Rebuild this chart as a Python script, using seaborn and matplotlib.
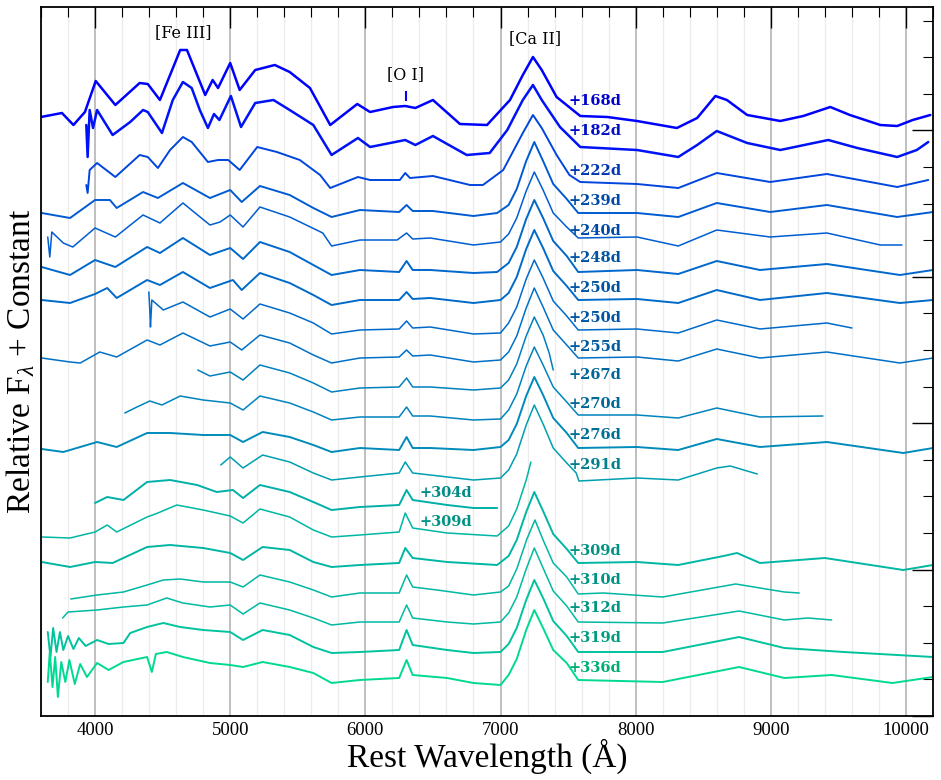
import numpy as np
import pandas as pd
import seaborn as sns
import matplotlib
matplotlib.use("Agg")
import matplotlib.pyplot as plt
from matplotlib.ticker import MultipleLocator

# phases of the nebular spectra (days) and their labels
PHASES = [168, 182, 222, 239, 240, 248, 250, 250, 255, 267,
          270, 276, 291, 304, 309, 309, 310, 312, 319, 336]
LABELS = ['+%dd' % p for p in PHASES]

# additive constant for each spectrum
OFFSETS = [59.1, 56.1, 53.1, 50.1, 47.1, 44.4, 41.4, 38.4, 35.5, 32.7,
           29.8, 26.7, 23.7, 20.9, 18.0, 15.1, 12.2, 9.4, 6.4, 3.4]

# (rest wavelength [A], relative flux)
SPEC_168 = [(3600, 0.8), (3755, 1.2), (3840, 0.0), (3925, 1.3), (4005, 4.4), (4150, 2.0),
            (4330, 4.2), (4390, 4.1), (4480, 2.5), (4570, 5.5), (4630, 7.5), (4680, 7.5),
            (4755, 5.0), (4815, 3.0), (4870, 4.5), (4910, 3.7), (5000, 6.2), (5070, 3.5),
            (5185, 5.5), (5330, 6.0), (5440, 5.3), (5590, 3.7), (5740, 0.0), (5940, 2.1),
            (6035, 1.3), (6205, 1.8), (6295, 1.9), (6370, 1.7), (6500, 2.5), (6700, 0.1),
            (6900, 0.0), (7070, 2.5), (7165, 5.0), (7240, 6.8), (7305, 5.5), (7415, 2.8),
            (7590, 0.9), (7790, 0.8), (8010, 0.4), (8305, -0.3), (8455, 0.7), (8590, 2.9),
            (8675, 2.5), (8825, 1.0), (9070, 0.4), (9240, 0.9), (9440, 1.8), (9585, 1.0),
            (9810, 0.0), (9935, -0.1), (10050, 0.5), (10180, 1.0)]
SPEC_182 = [(3935, 3.0), (3945, -0.2), (3960, 4.5), (3985, 2.7), (4015, 4.5), (4130, 2.0),
            (4260, 3.3), (4355, 4.5), (4390, 4.3), (4495, 2.2), (4575, 5.5), (4650, 7.3),
            (4715, 6.7), (4775, 4.5), (4835, 2.7), (4880, 4.1), (4920, 3.5), (5005, 5.9),
            (5080, 2.8), (5185, 5.2), (5320, 5.5), (5440, 4.5), (5615, 3.0), (5750, 0.0),
            (5945, 1.7), (6035, 0.8), (6295, 1.5), (6370, 1.0), (6500, 1.9), (6750, 0.0),
            (6920, 0.2), (7050, 2.5), (7165, 5.5), (7240, 7.0), (7305, 5.5), (7440, 2.8),
            (7590, 0.8), (8010, 0.5), (8315, -0.2), (8455, 1.0), (8600, 2.4), (8825, 1.2),
            (9070, 0.5), (9425, 1.5), (9640, 0.7), (9935, -0.2), (10080, 0.5), (10165, 1.3)]
SPEC_222 = [(3935, 0.0), (3945, -0.8), (3960, 1.5), (4015, 2.2), (4150, 0.8), (4330, 3.0),
            (4390, 2.8), (4465, 1.7), (4555, 3.5), (4650, 4.8), (4715, 4.3), (4835, 2.3),
            (4910, 2.5), (4985, 2.5), (5070, 1.5), (5200, 3.8), (5345, 3.3), (5515, 2.5),
            (5665, 1.0), (5740, -0.3), (5945, 0.8), (6035, 0.5), (6255, 0.5), (6295, 1.2),
            (6330, 0.7), (6500, 0.9), (6775, 0.0), (6870, 0.0), (7020, 1.5), (7165, 5.2),
            (7240, 7.0), (7305, 5.7), (7415, 3.0), (7510, 1.0), (7590, 0.3), (8010, 0.1),
            (8315, -0.3), (8600, 1.2), (8995, 0.3), (9415, 1.1), (9935, -0.2), (10165, 0.5)]
SPEC_239 = [(3605, 0.2), (3815, -0.3), (4000, 1.5), (4110, 1.5), (4160, 0.7), (4355, 2.3),
            (4465, 1.7), (4650, 3.2), (4850, 1.7), (5000, 2.5), (5085, 1.3), (5220, 2.9),
            (5440, 2.0), (5615, 0.7), (5750, -0.2), (5960, 0.5), (6250, 0.3), (6305, 1.0),
            (6350, 0.4), (6500, 0.4), (6800, -0.1), (6975, 0.2), (7060, 1.0), (7120, 2.6),
            (7190, 5.4), (7250, 7.3), (7315, 5.4), (7390, 3.1), (7490, 1.6), (7575, 0.2),
            (8010, 0.2), (8315, -0.2), (8600, 1.2), (8995, 0.3), (9415, 1.0), (9935, -0.2),
            (10200, 0.3)]
SPEC_240 = [(3650, 0.8), (3665, -1.2), (3680, 1.3), (3765, 0.2), (3835, -0.2), (4000, 1.7),
            (4150, 0.8), (4355, 3.0), (4480, 2.2), (4650, 4.2), (4850, 2.0), (4925, 2.3),
            (5000, 3.0), (5095, 1.8), (5220, 3.8), (5440, 2.8), (5685, 1.2), (5750, -0.1),
            (5960, 0.5), (6235, 0.5), (6305, 1.2), (6350, 0.6), (6480, 0.7), (6800, 0.0),
            (7000, 0.3), (7060, 1.1), (7120, 2.7), (7190, 5.4), (7250, 7.3), (7315, 5.5),
            (7390, 3.2), (7490, 1.8), (7575, 0.7), (8010, 0.8), (8315, -0.1), (8600, 1.5),
            (8995, 0.8), (9415, 1.2), (9810, 0.0), (9970, 0.0)]
SPEC_248 = [(3605, 0.5), (3815, -0.3), (4000, 1.2), (4150, 0.5), (4385, 2.5), (4480, 1.9),
            (4650, 3.4), (4850, 1.7), (5000, 2.4), (5095, 1.3), (5220, 3.0), (5440, 2.0),
            (5615, 0.7), (5750, -0.3), (5960, 0.2), (6250, 0.0), (6305, 1.1), (6350, 0.2),
            (6480, 0.2), (6800, -0.1), (6975, 0.0), (7060, 0.9), (7120, 2.5), (7190, 5.3),
            (7250, 7.2), (7315, 5.4), (7390, 3.1), (7490, 1.6), (7575, 0.0), (8010, 0.2),
            (8315, -0.2), (8600, 1.1), (8920, 0.2), (9415, 0.8), (9955, -0.3), (10200, 0.2)]
SPEC_250A = [(3605, 0.2), (3815, -0.1), (4000, 0.8), (4090, 1.4), (4160, 0.4), (4385, 2.2),
             (4480, 1.7), (4650, 3.0), (4850, 1.4), (5020, 2.2), (5085, 1.2), (5220, 2.9),
             (5440, 1.9), (5615, 0.7), (5750, -0.3), (5960, 0.2), (6250, 0.2), (6305, 1.0),
             (6350, 0.3), (6480, 0.4), (6800, -0.1), (7000, 0.2), (7060, 0.9), (7120, 2.5),
             (7190, 5.3), (7250, 7.2), (7315, 5.4), (7390, 3.1), (7490, 1.6), (7575, 0.2),
             (8010, 0.3), (8315, -0.1), (8600, 1.2), (8920, 0.2), (9415, 0.9), (9955, -0.1),
             (10200, 0.2)]
SPEC_250B = [(4398, 4.0), (4405, 2.2), (4410, 0.5), (4420, 3.2), (4505, 2.2), (4650, 3.0),
             (4850, 1.5), (5000, 2.3), (5095, 1.3), (5220, 2.8), (5440, 1.9), (5615, 0.9),
             (5750, -0.2), (5960, 0.2), (6250, 0.3), (6305, 1.1), (6350, 0.4), (6480, 0.5),
             (6800, -0.2), (7000, -0.1), (7060, 0.9), (7120, 2.5), (7190, 5.3), (7250, 7.2),
             (7315, 5.4), (7390, 3.1), (7490, 1.6), (7575, 0.2), (8010, 0.3), (8315, -0.1),
             (8600, 1.2), (8920, 0.3), (9415, 0.9), (9600, 0.4)]
SPEC_255 = [(3605, 0.3), (3815, -0.1), (3890, -0.2), (4035, 0.9), (4160, 0.4), (4385, 2.1),
            (4480, 1.6), (4650, 2.8), (4850, 1.5), (5000, 1.9), (5085, 1.1), (5220, 2.6),
            (5440, 1.8), (5615, 0.6), (5750, -0.2), (5960, 0.3), (6250, 0.4), (6305, 1.1),
            (6350, 0.5), (6480, 0.6), (6800, -0.1), (7000, 0.1), (7060, 0.9), (7120, 2.5),
            (7190, 5.3), (7250, 7.3), (7315, 5.4), (7390, 3.1), (7490, 1.6), (7575, 0.3),
            (8010, 0.4), (8315, 0.0), (8600, 1.2), (8920, 0.3), (9415, 0.9), (9955, -0.2),
            (10200, 0.3)]
SPEC_267 = [(4760, 1.9), (4850, 1.3), (5000, 1.7), (5095, 0.9), (5220, 2.4), (5440, 1.6),
            (5615, 0.6), (5750, -0.3), (5960, 0.1), (6250, 0.2), (6305, 1.1), (6350, 0.2),
            (6480, 0.2), (6800, -0.1), (7000, 0.1), (7060, 0.9), (7120, 2.5), (7190, 5.3),
            (7250, 7.2), (7315, 5.4), (7360, 3.6), (7390, 1.9)]
SPEC_270 = [(4220, 0.5), (4310, 1.1), (4405, 1.7), (4495, 1.3), (4630, 2.2), (4800, 1.8),
            (5000, 1.5), (5095, 0.8), (5220, 2.2), (5440, 1.5), (5615, 0.6), (5750, -0.2),
            (5960, 0.1), (6250, 0.1), (6305, 1.1), (6350, 0.2), (6480, 0.2), (6800, -0.2),
            (7000, -0.1), (7060, 0.8), (7120, 2.4), (7190, 5.2), (7250, 7.1), (7315, 5.3),
            (7390, 3.1), (7490, 1.6), (7575, 0.3), (8010, 0.3), (8315, 0.0), (8600, 1.0),
            (8920, 0.1), (9385, 0.2)]
SPEC_276 = [(3605, 0.0), (3765, -0.3), (4015, 0.7), (4160, 0.2), (4385, 1.6), (4555, 1.6),
            (4800, 1.4), (5000, 1.4), (5095, 0.7), (5240, 1.7), (5440, 1.2), (5615, 0.4),
            (5750, -0.3), (5960, 0.1), (6250, -0.1), (6305, 1.2), (6350, 0.1), (6480, 0.1),
            (6800, -0.1), (7000, 0.2), (7060, 0.9), (7120, 2.5), (7190, 5.3), (7250, 7.2),
            (7315, 5.4), (7390, 3.1), (7490, 1.6), (7575, 0.1), (8010, 0.2), (8315, -0.1),
            (8600, 1.0), (8920, 0.2), (9415, 0.7), (9980, -0.4), (10200, 0.1)]
SPEC_291 = [(4930, 1.4), (5000, 2.2), (5095, 1.1), (5240, 2.4), (5440, 1.7), (5615, 0.6),
            (5750, -0.1), (5960, 0.2), (6250, 0.6), (6295, 1.7), (6350, 0.6), (6480, 0.4),
            (6800, -0.1), (7000, 0.1), (7060, 0.9), (7120, 2.5), (7190, 5.4), (7250, 7.4),
            (7315, 5.5), (7390, 3.1), (7490, 1.6), (7560, 0.6), (7580, -0.2), (8010, 0.1),
            (8315, -0.1), (8600, 1.1), (8700, 1.3), (8900, 0.5)]
SPEC_304 = [(4000, 0.4), (4090, 1.0), (4210, 0.7), (4385, 2.5), (4555, 2.7), (4755, 2.2),
            (4900, 1.5), (5020, 1.7), (5095, 0.9), (5220, 2.2), (5440, 1.5), (5615, 0.5),
            (5750, -0.3), (5960, 0.0), (6250, 0.2), (6305, 1.7), (6350, 0.7), (6605, 0.2),
            (6800, -0.1), (6975, -0.1)]
SPEC_309A = [(3605, -0.1), (3815, -0.2), (4000, 0.4), (4090, 1.1), (4160, 0.4), (4385, 1.9),
             (4465, 2.3), (4605, 3.1), (4800, 2.6), (5000, 2.0), (5095, 1.3), (5220, 2.7),
             (5440, 1.9), (5615, 0.6), (5750, -0.1), (5960, 0.1), (6250, 0.4), (6295, 2.3),
             (6350, 0.8), (6605, 0.3), (6975, 0.0), (7060, 1.0), (7120, 2.7), (7190, 5.6),
             (7225, 7.4)]
SPEC_309B = [(3605, 0.3), (3815, -0.2), (4000, 0.3), (4130, 0.2), (4385, 1.8), (4555, 2.0),
             (4800, 1.7), (5000, 1.2), (5095, 0.5), (5240, 1.8), (5440, 1.5), (5615, 0.3),
             (5750, -0.2), (5960, 0.0), (6250, 0.2), (6295, 1.7), (6350, 0.7), (6605, 0.3),
             (6975, 0.0), (7060, 0.9), (7120, 2.5), (7190, 5.3), (7250, 7.3), (7315, 5.4),
             (7390, 3.1), (7490, 1.6), (7575, 0.2), (8010, 0.3), (8315, 0.0), (8650, 0.9),
             (8750, 1.2), (8920, 0.2), (9400, 0.7), (9980, -0.5), (10200, 0.0)]
SPEC_310 = [(3820, -0.5), (4015, -0.1), (4210, 0.2), (4385, 0.9), (4505, 1.4), (4630, 1.5),
            (4800, 1.2), (5000, 1.2), (5095, 0.7), (5220, 1.9), (5440, 1.2), (5615, 0.4),
            (5750, -0.3), (5960, 0.1), (6250, 0.1), (6305, 1.9), (6350, 0.7), (6530, 0.4),
            (6800, -0.1), (7000, 0.2), (7060, 0.8), (7120, 2.5), (7195, 5.5), (7255, 7.4),
            (7315, 5.4), (7390, 3.1), (7490, 1.7), (7575, 0.0), (7760, 0.1), (8200, -0.3),
            (8740, 1.0), (9100, 0.2), (9210, 0.1)]
SPEC_312 = [(3760, 0.4), (3800, 1.0), (4015, 1.2), (4210, 1.5), (4385, 1.7), (4530, 2.4),
            (4650, 1.9), (4850, 1.5), (5000, 1.7), (5095, 0.8), (5220, 1.9), (5440, 1.2),
            (5615, 0.4), (5750, -0.3), (5960, 0.0), (6250, 0.0), (6305, 1.7), (6350, 0.4),
            (6605, 0.0), (6800, -0.2), (7000, 0.0), (7060, 0.9), (7120, 2.5), (7190, 5.3),
            (7250, 7.4), (7315, 5.4), (7390, 3.1), (7490, 1.6), (7575, 0.0), (8200, -0.1),
            (8765, 1.1), (9100, 0.2), (9275, 0.4), (9450, 0.2)]
SPEC_319 = [(3650, 2.0), (3670, -0.5), (3690, 2.4), (3715, 0.0), (3740, 2.0), (3765, 0.2),
            (3800, 1.6), (3840, 0.3), (3880, 1.4), (3930, 0.6), (4015, 1.2), (4100, 0.8),
            (4210, 0.9), (4260, 1.9), (4385, 2.5), (4505, 2.9), (4630, 2.5), (4800, 2.2),
            (5000, 2.0), (5095, 1.2), (5240, 2.2), (5440, 1.7), (5615, 0.5), (5750, -0.1),
            (5960, 0.0), (6250, 0.2), (6305, 2.2), (6350, 0.7), (6605, 0.2), (6800, -0.1),
            (7000, 0.0), (7060, 0.8), (7120, 2.4), (7190, 5.2), (7250, 7.2), (7315, 5.4),
            (7390, 3.1), (7490, 1.6), (7575, 0.0), (8200, 0.0), (8765, 1.5), (9100, 0.4),
            (9540, 0.0), (10200, -0.5)]
SPEC_336 = [(3650, 0.0), (3665, 3.0), (3685, -0.5), (3705, 2.5), (3725, -1.5), (3750, 2.0),
            (3780, 0.0), (3810, 2.2), (3850, -0.2), (3890, 1.8), (3940, 0.5), (4015, 1.9),
            (4100, 1.2), (4210, 2.0), (4385, 2.5), (4420, 1.0), (4450, 2.8), (4530, 3.0),
            (4650, 2.5), (4850, 1.9), (5000, 1.7), (5095, 1.5), (5240, 2.0), (5440, 1.5),
            (5615, 0.9), (5750, -0.1), (5960, 0.2), (6250, 0.4), (6305, 2.2), (6350, 0.7),
            (6605, 0.4), (6800, -0.1), (7000, -0.3), (7060, 0.7), (7120, 2.3), (7190, 5.2),
            (7250, 7.2), (7315, 5.4), (7390, 3.2), (7490, 1.9), (7575, 0.2), (8200, 0.0),
            (8765, 1.5), (9100, 0.4), (9450, 0.7), (9900, -0.1), (10200, 0.5)]

SPECTRA = [SPEC_168, SPEC_182, SPEC_222, SPEC_239, SPEC_240, SPEC_248, SPEC_250A,
           SPEC_250B, SPEC_255, SPEC_267, SPEC_270, SPEC_276, SPEC_291, SPEC_304,
           SPEC_309A, SPEC_309B, SPEC_310, SPEC_312, SPEC_319, SPEC_336]

# styling
NOISY = {1, 2, 3, 5, 6, 11, 13, 15, 18, 19}
SIDE_LABEL = {13, 14}  # labels sitting next to [O I] instead of right of Ca II

sns.set_style("white")
plt.rcParams['font.family'] = ['DejaVu Serif']
plt.rcParams['text.color'] = 'black'
plt.rcParams['axes.labelcolor'] = 'black'
plt.rcParams['xtick.color'] = 'black'
plt.rcParams['ytick.color'] = 'black'
plt.rcParams['mathtext.fontset'] = 'custom'
plt.rcParams['mathtext.rm'] = 'Liberation Serif'
plt.rcParams['mathtext.it'] = 'Liberation Serif:italic'

fig = plt.figure(figsize=(9.41, 7.8), dpi=100)
ax = fig.add_axes([41 / 941, 64 / 780, 892 / 941, 709 / 780])
cmap = plt.get_cmap('winter')

for i, spec in enumerate(SPECTRA):
    df = pd.DataFrame(spec, columns=['wave', 'flux'])
    df['flux'] = df['flux'] + OFFSETS[i]
    col = cmap((PHASES[i] - 168) / (366 - 168))
    lw = 1.8 if i < 2 else (1.4 if i in NOISY else 1.1)
    sns.lineplot(data=df, x='wave', y='flux', ax=ax, color=col, lw=lw,
                 sort=False, estimator=None, errorbar=None)

    dark = tuple(c * 0.8 for c in col[:3])
    lift = 2.4 if i < 2 else 1.4
    lx = 6404 if i in SIDE_LABEL else 7505
    ax.text(lx, OFFSETS[i] + lift, LABELS[i], color=dark, fontsize=10.5,
            fontweight='bold', ha='left', va='center', family='DejaVu Serif')

# line identifications
ax.text(4651, 68.3, '[Fe III]', ha='center', va='center', fontsize=11.5)
ax.text(7255, 67.7, '[Ca II]', ha='center', va='center', fontsize=11.5)
ax.text(6300, 64.1, '[O I]', ha='center', va='center', fontsize=11.5)
ax.vlines(6300, 61.5, 62.5, color=cmap(0.0), lw=1.5)

ax.set_xlim(3600, 10200)
ax.set_ylim(0, 70.9)
ax.xaxis.set_major_locator(MultipleLocator(1000))
ax.xaxis.set_minor_locator(MultipleLocator(200))
ax.yaxis.set_major_locator(MultipleLocator(14.64))
ax.yaxis.set_minor_locator(MultipleLocator(3.66))
ax.grid(which='major', axis='x', color='#b4b4b4', lw=1.2)
ax.grid(which='minor', axis='x', color='#ececec', lw=1.0)
ax.grid(False, axis='y', which='both')
ax.set_axisbelow(True)

ax.tick_params(which='both', direction='in', top=True, right=True,
               labelleft=False, colors='black')
ax.tick_params(which='major', length=15, width=1.0, labelsize=13.5, pad=4)
ax.tick_params(which='minor', length=7.2, width=0.8)
for lab in ax.get_xticklabels():
    lab.set_family('Liberation Serif')
for sp in ax.spines.values():
    sp.set_color('black')
    sp.set_linewidth(1.3)

ax.set_xlabel('Rest Wavelength (\u00c5)', fontsize=24, family='Liberation Serif', labelpad=0)
ax.set_ylabel(r'Relative F$_{\lambda}$ + Constant', fontsize=24,
              family='Liberation Serif', labelpad=3)

fig.savefig('out.png', dpi=100)
